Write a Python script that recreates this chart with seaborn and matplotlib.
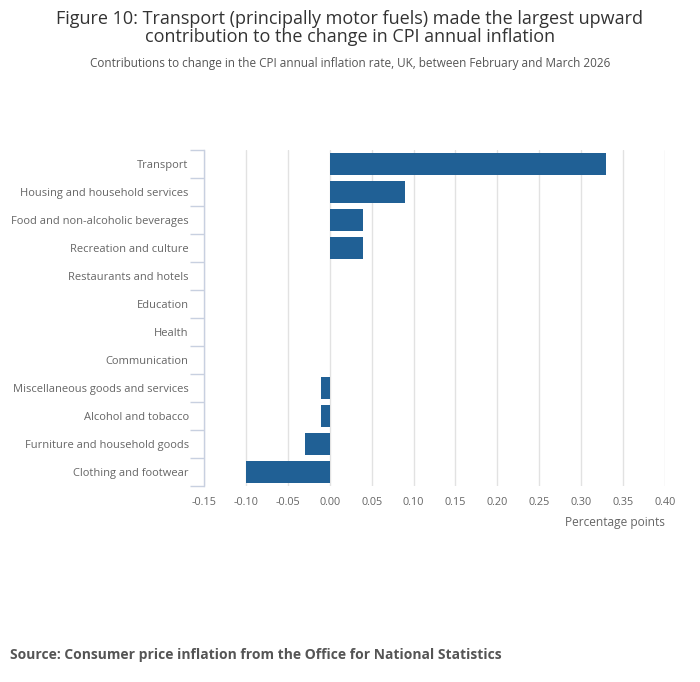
import numpy as np
import pandas as pd
import seaborn as sns
import matplotlib.pyplot as plt
from matplotlib.ticker import FixedLocator

categories = [
    'Transport',
    'Housing and household services',
    'Food and non-alcoholic beverages',
    'Recreation and culture',
    'Restaurants and hotels',
    'Education',
    'Health',
    'Communication',
    'Miscellaneous goods and services',
    'Alcohol and tobacco',
    'Furniture and household goods',
    'Clothing and footwear',
]
contributions = [0.33, 0.09, 0.04, 0.04, 0.0, 0.0, 0.0, 0.0, -0.01, -0.01, -0.03, -0.10]
x_ticks = [-0.15, -0.10, -0.05, 0.00, 0.05, 0.10, 0.15, 0.20, 0.25, 0.30, 0.35, 0.40]

df = pd.DataFrame({'category': categories, 'value': contributions})

sns.set_style('white')
plt.rcParams['font.family'] = ['Open Sans', 'DejaVu Sans']

fig = plt.figure(figsize=(7, 6.82), dpi=100)
ax = fig.add_axes([204 / 700, 1 - 486 / 682, (665 - 204) / 700, (486 - 150) / 682])

sns.barplot(data=df, x='value', y='category', orient='h', color='#206095',
            saturation=1, width=0.78, linewidth=0, ax=ax)

ax.set_xlim(-0.15, 0.40)
ax.set_ylim(len(categories) - 0.5, -0.5)
ax.set_xticks(x_ticks)
ax.set_xticklabels([f'{t:.2f}' for t in x_ticks])
ax.grid(axis='x', color='#e2e2e2', linewidth=1)
ax.set_axisbelow(True)

for side in ['top', 'right', 'bottom']:
    ax.spines[side].set_visible(False)
ax.spines['left'].set_color('#c8d0e0')
ax.spines['left'].set_linewidth(1)

# ticks sit between the categories, labels in the middle
ax.yaxis.set_minor_locator(FixedLocator(np.arange(-0.5, len(categories), 1)))
ax.tick_params(axis='y', which='major', left=True, length=0, pad=11, labelsize=8, labelcolor='#666666')
ax.tick_params(axis='y', which='minor', left=True, length=10, color='#c8d0e0', width=1)
ax.tick_params(axis='x', length=0, pad=8, labelsize=7.8, labelcolor='#666666')

ax.set_ylabel('')
ax.set_xlabel('Percentage points', fontsize=8.6, color='#666666', loc='right', labelpad=6)

fig.text(0.5, 1 - 28 / 682, 'Figure 10: Transport (principally motor fuels) made the largest upward\ncontribution to the change in CPI annual inflation',
         ha='center', va='center', fontsize=13, color='#333333', linespacing=1.0)
fig.text(0.5, 1 - 64 / 682, 'Contributions to change in the CPI annual inflation rate, UK, between February and March 2026',
         ha='center', va='center', fontsize=8.5, color='#555555')
fig.text(10 / 700, 1 - 655 / 682, 'Source: Consumer price inflation from the Office for National Statistics',
         ha='left', va='center', fontsize=10, fontweight='bold', color='#555555')

fig.savefig('out.png', dpi=100)
